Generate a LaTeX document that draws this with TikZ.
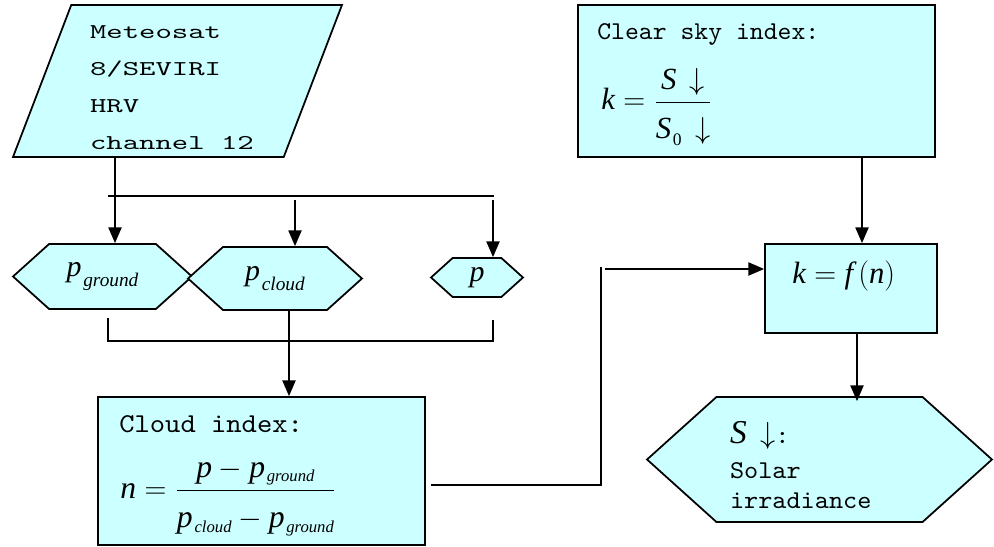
\documentclass[tikz,border=0pt]{standalone}
\usepackage{amsmath}
\usepackage{fontspec}
\setmonofont{lmmono10-regular}[Extension=.otf]
\newfontfamily\tms{Liberation Serif}
\usetikzlibrary{arrows.meta,shapes.geometric,shapes.symbols}
\definecolor{skyfill}{HTML}{CCFFFF}
\newcommand{\vi}[1]{\mbox{\tms\itshape #1}}
\newcommand{\lowtxt}[3]{\raisebox{-#2}{\fontsize{#1}{#1}\selectfont\tms\itshape\kern1pt #3}}
\newcommand{\typefont}[3]{\ttfamily\fontsize{#1}{#2}\selectfont\addfontfeature{FakeStretch=#3}}

\begin{document}
\begin{tikzpicture}[x=0.02cm,y=-0.02cm,>={Triangle[length=9pt,width=7.5pt]},
  every node/.style={inner sep=0pt},
  block/.style={draw,line width=1pt,fill=skyfill},
  hexa/.style={block,signal,signal to=east and west,signal pointer angle=84,
    font=\fontsize{17}{20}\selectfont},
  link/.style={line width=1pt}]
  \useasboundingbox (0,0) rectangle (994,547);

  % input and the three images
  \node[block,trapezium,trapezium left angle=67,trapezium right angle=113,
    trapezium stretches body,minimum width=6.58cm,minimum height=3.04cm,
    text width=3.5cm,align=left,font=\typefont{12}{21}{1.48}]
    (sat) at (177.5,81)
    {\rule{0pt}{15pt}Meteosat\\8/SEVIRI\\HRV\\channel\hspace{0.777em}12};
  \node[hexa,minimum width=3.58cm,minimum height=1.3cm] (pg) at (102.5,276.5)
    {$\vi{p}\lowtxt{11}{6pt}{ground}$};
  \node[hexa,minimum width=3.48cm,minimum height=1.26cm] (pc) at (275,278.5)
    {$\vi{p}\lowtxt{11}{6pt}{cloud}$};
  \node[hexa,minimum width=1.84cm,minimum height=0.78cm] (p) at (477,277.5)
    {$\vi{p}$};

  % cloud index
  \node[block,minimum width=6.54cm,minimum height=2.96cm] (cloud) at (261.5,471) {};
  \node[anchor=base west,font=\typefont{15.5}{18}{1.07}] (cloudlbl)
    at (119,432) {Cloud index:};
  \node[anchor=base west,font=\fontsize{18}{22}\selectfont] (cloudeq) at (120,498)
    {$\vi{n}=\dfrac{\vi{p}-\vi{p}\lowtxt{9.5}{2.5pt}{ground}}%
      {\rule{0pt}{1.05em}\vi{p}\lowtxt{9.5}{2.5pt}{cloud}-\vi{p}\lowtxt{9.5}{2.5pt}{ground}}$};

  % clear sky index and model
  \node[block,minimum width=7.14cm,minimum height=3.04cm] (clear) at (756.5,81) {};
  \node[anchor=base west,font=\typefont{14.6}{17}{1.03}] (clearlbl)
    at (597,40) {Clear sky index:};
  \node[anchor=base west,font=\fontsize{17.5}{21}\selectfont] (cleareq) at (601,110)
    {$\vi{k}=\dfrac{\vi{S}\,\downarrow}{\rule{0pt}{1.05em}\vi{S}\lowtxt{10}{3.5pt}{\upshape 0}\,\downarrow}$};
  \node[block,minimum width=3.44cm,minimum height=1.78cm] (kf) at (851,288.5) {};
  \node[anchor=base west,font=\fontsize{17.5}{21}\selectfont] (kflbl) at (792,283)
    {$\vi{k}=\vi{f}\,(\vi{n})$};
  \node[hexa,minimum width=6.9cm,minimum height=2.5cm,text width=3.58cm,align=left,
    font=\typefont{14.6}{17.6}{1.05}] (solar) at (819.5,459.5)
    {\rule{0pt}{19pt}{\fontsize{19}{22}\selectfont$\vi{S}\,\downarrow$}:\\[2.2pt]Solar\\irradiance};

  % connectors
  \coordinate (busL) at (108,196);
  \coordinate (busR) at (494,196);
  \coordinate (drop) at (115,196);
  \coordinate (tapC) at (295,200);
  \coordinate (tapP) at (493,200);
  \draw[link] (busL) -- (busR);
  \draw[link,->] (drop |- sat.south) -- (drop |- pg.north);
  \draw[link,->] (tapC) -- (tapC |- pc.north);
  \draw[link,->] (tapP) -- (tapP |- p.north);

  \coordinate (colL) at (108,341);
  \coordinate (colR) at (493,341);
  \coordinate (colM) at (289,341);
  \draw[link] (colL |- 0,318) -- (colL) -- (colR) -- (colR |- 0,320);
  \draw[link,->] (colM |- pc.south) -- (colM |- cloud.north);

  \coordinate (bend) at (601,485);
  \coordinate (feed) at (605,269);
  \draw[link] ([xshift=0.1cm]cloud.east |- bend) -- (bend) -- (bend |- 0,267);
  \draw[link,->] (feed) -- (feed -| kf.west);
  \draw[link,->] (clear.south -| 862,0) -- (kf.north -| 862,0);
  \draw[link,->] (kf.south -| 857,0) -- ([yshift=-0.1cm]solar.north -| 857,0);
\end{tikzpicture}
\end{document}
